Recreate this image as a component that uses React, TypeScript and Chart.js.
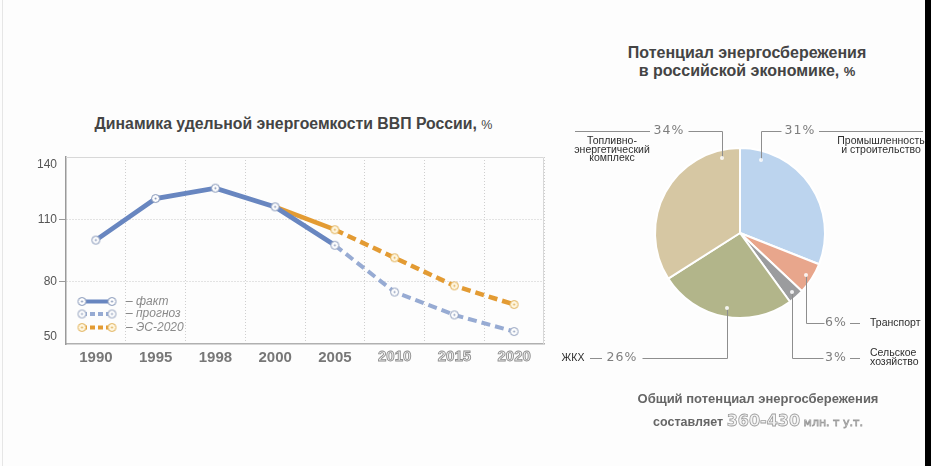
import React, { useEffect, useRef } from 'react';
import { Chart, registerables } from 'chart.js';

Chart.register(...registerables);

// ---- data: line chart ----
const years = ['1990', '1995', '1998', '2000', '2005', '2010', '2015', '2020'];
const forecastYears = ['2010', '2015', '2020'];
const faktValues = [100, 120, 125, 116, 97.5, null, null, null];
const prognozValues = [null, null, null, null, 97.5, 75, 64, 56];
const es2020Values = [null, null, null, 116, 105, 91.5, 78, 69];
const yTickValues = [50, 80, 110, 140];
const seriesNames = ['факт', 'прогноз', 'ЭС-2020'];

// ---- data: pie chart ----
const sectorNames = [
  ['Промышленность', 'и строительство'],
  ['Транспорт'],
  ['Сельское', 'хозяйство'],
  ['ЖКХ'],
  ['Топливно-', 'энергетический', 'комплекс'],
];
const sectorShares = [31, 6, 3, 26, 34];

// ---- styles ----
const FONT = '"Liberation Sans", Arial, sans-serif';
const C_FAKT = '#6886c0';
const C_PROG = '#97abd3';
const C_ES = '#e39b33';
const sliceColors = ['#bcd4ee', '#e8a68c', '#9b9c9e', '#b2b58a', '#d6c7a3'];

// annotation layout for the pie, relative to the pie centre (px)
type Lay = {
  path: number[][];
  pct: number[];
  tail: number[][];
  name: { x: number; y: number; align: CanvasTextAlign };
};
const pieLayout: Lay[] = [
  { path: [[21, -73], [21, -102], [41, -102]], pct: [60, -102], tail: [[79, -102], [183, -102]], name: { x: 141, y: -92, align: 'center' } },
  { path: [[66, 42], [66, 90], [84, 90]], pct: [96, 90], tail: [[110, 90], [120, 90]], name: { x: 130, y: 90, align: 'left' } },
  { path: [[52, 59], [52, 125], [83, 125]], pct: [96, 125], tail: [[110, 125], [120, 125]], name: { x: 130, y: 120, align: 'left' } },
  { path: [[-13, 75], [-13, 125], [-98, 125]], pct: [-118, 125], tail: [[-138, 125], [-150, 125]], name: { x: -167, y: 125, align: 'center' } },
  { path: [[-18, -75], [-18, -102], [-52, -102]], pct: [-71, -102], tail: [[-90, -102], [-165, -102]], name: { x: -128, y: -92, align: 'center' } },
];

function makeMarker(stroke: string, fill: string): HTMLCanvasElement {
  const c = document.createElement('canvas');
  c.width = 11;
  c.height = 11;
  const g = c.getContext('2d')!;
  g.beginPath();
  g.arc(5.5, 5.5, 4, 0, Math.PI * 2);
  g.fillStyle = fill;
  g.fill();
  g.lineWidth = 1;
  g.strokeStyle = stroke;
  g.stroke();
  g.beginPath();
  g.arc(5.5, 5.5, 1, 0, Math.PI * 2);
  g.fillStyle = stroke;
  g.fill();
  return c;
}

export default function App() {
  const lineRef = useRef<HTMLCanvasElement>(null);
  const pieRef = useRef<HTMLCanvasElement>(null);

  useEffect(() => {
    const mFakt = makeMarker('#7d8fb3', '#ffffff');
    const mProg = makeMarker('#8a99b8', '#ffffff');
    const mEs = makeMarker('#dfae52', '#fff7e2');
    const markers = [mFakt, mProg, mEs];
    const colors = [C_FAKT, C_PROG, C_ES];
    const dashes = [[], [5, 3], [5, 3]];

    const lineDecor = {
      id: 'lineDecor',
      beforeDatasetsDraw(chart: any) {
        const { ctx, chartArea: a } = chart;
        ctx.save();
        ctx.strokeStyle = '#d8d8d8';
        ctx.lineWidth = 1;
        ctx.beginPath();
        ctx.moveTo(a.left, a.top + 0.5);
        ctx.lineTo(a.right - 0.5, a.top + 0.5);
        ctx.lineTo(a.right - 0.5, a.bottom);
        ctx.stroke();
        ctx.restore();
      },
      afterDraw(chart: any) {
        const { ctx, chartArea: a } = chart;
        const ys = chart.scales.y;
        const xs = chart.scales.x;
        ctx.save();
        // y labels, end labels pulled inside
        ctx.font = `12px ${FONT}`;
        ctx.fillStyle = '#555';
        ctx.textAlign = 'right';
        ctx.textBaseline = 'middle';
        yTickValues.forEach((v) => {
          let y = ys.getPixelForValue(v);
          if (v === ys.max) y += 8;
          if (v === ys.min) y -= 7;
          ctx.fillText(String(v), a.left - 9, y);
        });
        // hollow forecast year labels
        ctx.font = `bold 15px ${FONT}`;
        ctx.textAlign = 'center';
        ctx.lineWidth = 0.9;
        years.forEach((yr, i) => {
          if (!forecastYears.includes(yr)) return;
          const x = xs.getPixelForValue(i);
          const y = a.bottom + 13;
          ctx.fillStyle = '#f3f3f3';
          ctx.fillText(yr, x, y);
          ctx.strokeStyle = '#8f8f8f';
          ctx.strokeText(yr, x, y);
        });
        // legend inside plot
        const rowsY = [a.bottom - 42.5, a.bottom - 30, a.bottom - 16.5];
        seriesNames.forEach((name, i) => {
          const y = rowsY[i];
          const x1 = a.left + 16;
          const x2 = a.left + 46;
          ctx.strokeStyle = colors[i];
          ctx.lineWidth = 4;
          ctx.setLineDash(dashes[i]);
          ctx.beginPath();
          ctx.moveTo(x1, y);
          ctx.lineTo(x2, y);
          ctx.stroke();
          ctx.setLineDash([]);
          ctx.drawImage(markers[i], x1 - 5.5, y - 5.5);
          ctx.drawImage(markers[i], x2 - 5.5, y - 5.5);
          ctx.font = `italic 12px ${FONT}`;
          ctx.fillStyle = '#8a8a8a';
          ctx.textAlign = 'left';
          ctx.fillText('– ' + name, a.left + 60, y);
        });
        ctx.restore();
      },
    };

    const lc = new Chart(lineRef.current!, {
      type: 'line',
      data: {
        labels: years,
        datasets: [
          {
            label: seriesNames[1],
            data: prognozValues,
            borderColor: C_PROG,
            borderWidth: 4,
            borderDash: [9, 5],
            pointStyle: mProg,
            pointRadius: 5,
            order: 0,
          },
          {
            label: seriesNames[0],
            data: faktValues,
            borderColor: C_FAKT,
            borderWidth: 4.8,
            pointStyle: mFakt,
            pointRadius: (c: any) => (c.dataIndex === 4 ? 0 : 5),
            order: 1,
          },
          {
            label: seriesNames[2],
            data: es2020Values,
            borderColor: C_ES,
            borderWidth: 4.5,
            segment: { borderDash: (c: any) => (c.p0DataIndex >= 4 ? [9, 5] : []) },
            pointStyle: mEs,
            pointRadius: (c: any) => (c.dataIndex === 3 ? 0 : 5),
            order: 2,
          },
        ] as any,
      },
      options: {
        responsive: false,
        animation: false,
        layout: { padding: { top: 17, right: 16, left: 0, bottom: 0 } },
        plugins: { legend: { display: false }, tooltip: { enabled: false }, title: { display: false } },
        scales: {
          x: {
            offset: true,
            grid: {
              offset: true,
              drawTicks: false,
              color: (c: any) => (c.index === 0 || c.index === years.length ? 'rgba(0,0,0,0)' : '#cfcfcf'),
            },
            border: { color: '#b0b0b0', width: 1.5, dash: [1, 2] },
            ticks: {
              padding: 5,
              font: { family: FONT, size: 15, weight: 'bold' },
              color: (c: any) => (forecastYears.includes(years[c.index]) ? 'rgba(0,0,0,0)' : '#777'),
            },
            afterFit: (s: any) => { s.height = 36; },
          },
          y: {
            min: 50,
            max: 140,
            ticks: { stepSize: 30, color: 'rgba(0,0,0,0)', font: { family: FONT, size: 12 }, padding: 2 },
            grid: {
              tickLength: 7,
              color: (c: any) => (c.tick && (c.tick.value === 50 || c.tick.value === 140) ? 'rgba(0,0,0,0)' : '#c8c8c8'),
              tickColor: (c: any) => (c.tick && (c.tick.value === 50 || c.tick.value === 140) ? 'rgba(0,0,0,0)' : '#999'),
            },
            border: { color: '#9a9a9a', width: 1.5, dash: [1, 2] },
            afterFit: (s: any) => { s.width = 66; },
          },
        },
      } as any,
      plugins: [lineDecor],
    });

    const pieDecor = {
      id: 'pieDecor',
      afterDraw(chart: any) {
        const { ctx } = chart;
        const arc = chart.getDatasetMeta(0).data[0];
        const cx = arc.x;
        const cy = arc.y;
        ctx.save();
        pieLayout.forEach((lay, i) => {
          ctx.strokeStyle = '#8e8e8e';
          ctx.lineWidth = 1;
          ctx.beginPath();
          lay.path.forEach((p, k) => {
            const x = Math.round(cx + p[0]) + 0.5;
            const y = Math.round(cy + p[1]) + 0.5;
            if (k === 0) ctx.moveTo(x, y);
            else ctx.lineTo(x, y);
          });
          ctx.stroke();
          ctx.beginPath();
          ctx.moveTo(cx + lay.tail[0][0], Math.round(cy + lay.tail[0][1]) + 0.5);
          ctx.lineTo(cx + lay.tail[1][0], Math.round(cy + lay.tail[1][1]) + 0.5);
          ctx.stroke();
          // dot
          ctx.beginPath();
          ctx.arc(cx + lay.path[0][0], cy + lay.path[0][1], 2, 0, Math.PI * 2);
          ctx.fillStyle = 'rgba(255,255,255,0.85)';
          ctx.fill();
          // percent
          ctx.font = `12.5px "DejaVu Sans", sans-serif`;
          (ctx as any).letterSpacing = '1px';
          ctx.fillStyle = '#7e7e7e';
          ctx.textAlign = 'center';
          ctx.textBaseline = 'middle';
          ctx.fillText(`${sectorShares[i]}%`, cx + lay.pct[0], cy + lay.pct[1]);
          (ctx as any).letterSpacing = '0px';
          // name
          ctx.font = `10.5px ${FONT}`;
          ctx.fillStyle = '#2e2e2e';
          ctx.textAlign = lay.name.align;
          sectorNames[i].forEach((t, k) => {
            ctx.fillText(t, cx + lay.name.x, cy + lay.name.y + k * 8.7);
          });
        });
        ctx.restore();
      },
    };

    const pc = new Chart(pieRef.current!, {
      type: 'pie',
      data: {
        labels: sectorNames.map((n) => n.join(' ')),
        datasets: [
          {
            data: sectorShares,
            backgroundColor: sliceColors,
            borderColor: '#ffffff',
            borderWidth: 2,
          },
        ],
      },
      options: {
        responsive: false,
        animation: false,
        radius: 85,
        layout: { padding: { left: 90, right: 90, top: 40, bottom: 74 } },
        plugins: { legend: { display: false }, tooltip: { enabled: false } },
      } as any,
      plugins: [pieDecor],
    });

    return () => {
      lc.destroy();
      pc.destroy();
    };
  }, []);

  const hollow: React.CSSProperties = {
    color: '#f4f4f4',
    WebkitTextStroke: '0.8px #9c9c9c',
    fontFamily: '"DejaVu Sans", sans-serif',
    fontWeight: 'bold',
  } as any;

  return (
    <div
      style={{
        position: 'absolute',
        left: 0,
        top: 0,
        width: 931,
        height: 466,
        background: '#fdfdfd',
        overflow: 'hidden',
        fontFamily: FONT,
      }}
    >
      <div style={{ position: 'absolute', left: 2, top: 0, width: 1, height: 466, background: '#e6e6e6' }} />
      <div style={{ position: 'absolute', left: 925, top: 0, width: 6, height: 466, background: '#000' }} />

      <div
        style={{
          position: 'absolute',
          left: 0,
          top: 114,
          width: 587,
          textAlign: 'center',
          fontWeight: 'bold',
          fontSize: 15.8,
          lineHeight: '20px',
          color: '#444',
        }}
      >
        Динамика удельной энергоемкости ВВП России, <span style={{ fontWeight: 'normal', fontSize: 12.5 }}>%</span>
      </div>

      <canvas
        ref={lineRef}
        width={560}
        height={240}
        style={{ position: 'absolute', left: 0, top: 140, width: 560, height: 240 }}
      />

      <div
        style={{
          position: 'absolute',
          left: 597,
          top: 44,
          width: 300,
          textAlign: 'center',
          fontWeight: 'bold',
          fontSize: 16,
          lineHeight: '18px',
          color: '#444',
        }}
      >
        Потенциал энергосбережения
        <br />в российской экономике, <span style={{ fontSize: 13 }}>%</span>
      </div>

      <canvas
        ref={pieRef}
        width={370}
        height={300}
        style={{ position: 'absolute', left: 555, top: 100, width: 370, height: 300 }}
      />

      <div
        style={{
          position: 'absolute',
          left: 608,
          top: 390,
          width: 300,
          textAlign: 'center',
          fontWeight: 'bold',
          fontSize: 13,
          lineHeight: '18px',
          color: '#666',
        }}
      >
        Общий потенциал энергосбережения
      </div>
      <div
        style={{
          position: 'absolute',
          left: 558,
          top: 410,
          width: 400,
          textAlign: 'center',
          lineHeight: '22px',
          whiteSpace: 'nowrap',
        }}
      >
        <span style={{ fontWeight: 'bold', fontSize: 12.5, color: '#666' }}>составляет </span>
        <span style={{ ...hollow, fontSize: 16 }}>360-430</span>
        <span style={{ ...hollow, fontSize: 11, fontWeight: 'normal' }}> млн. т у.т.</span>
      </div>
    </div>
  );
}
